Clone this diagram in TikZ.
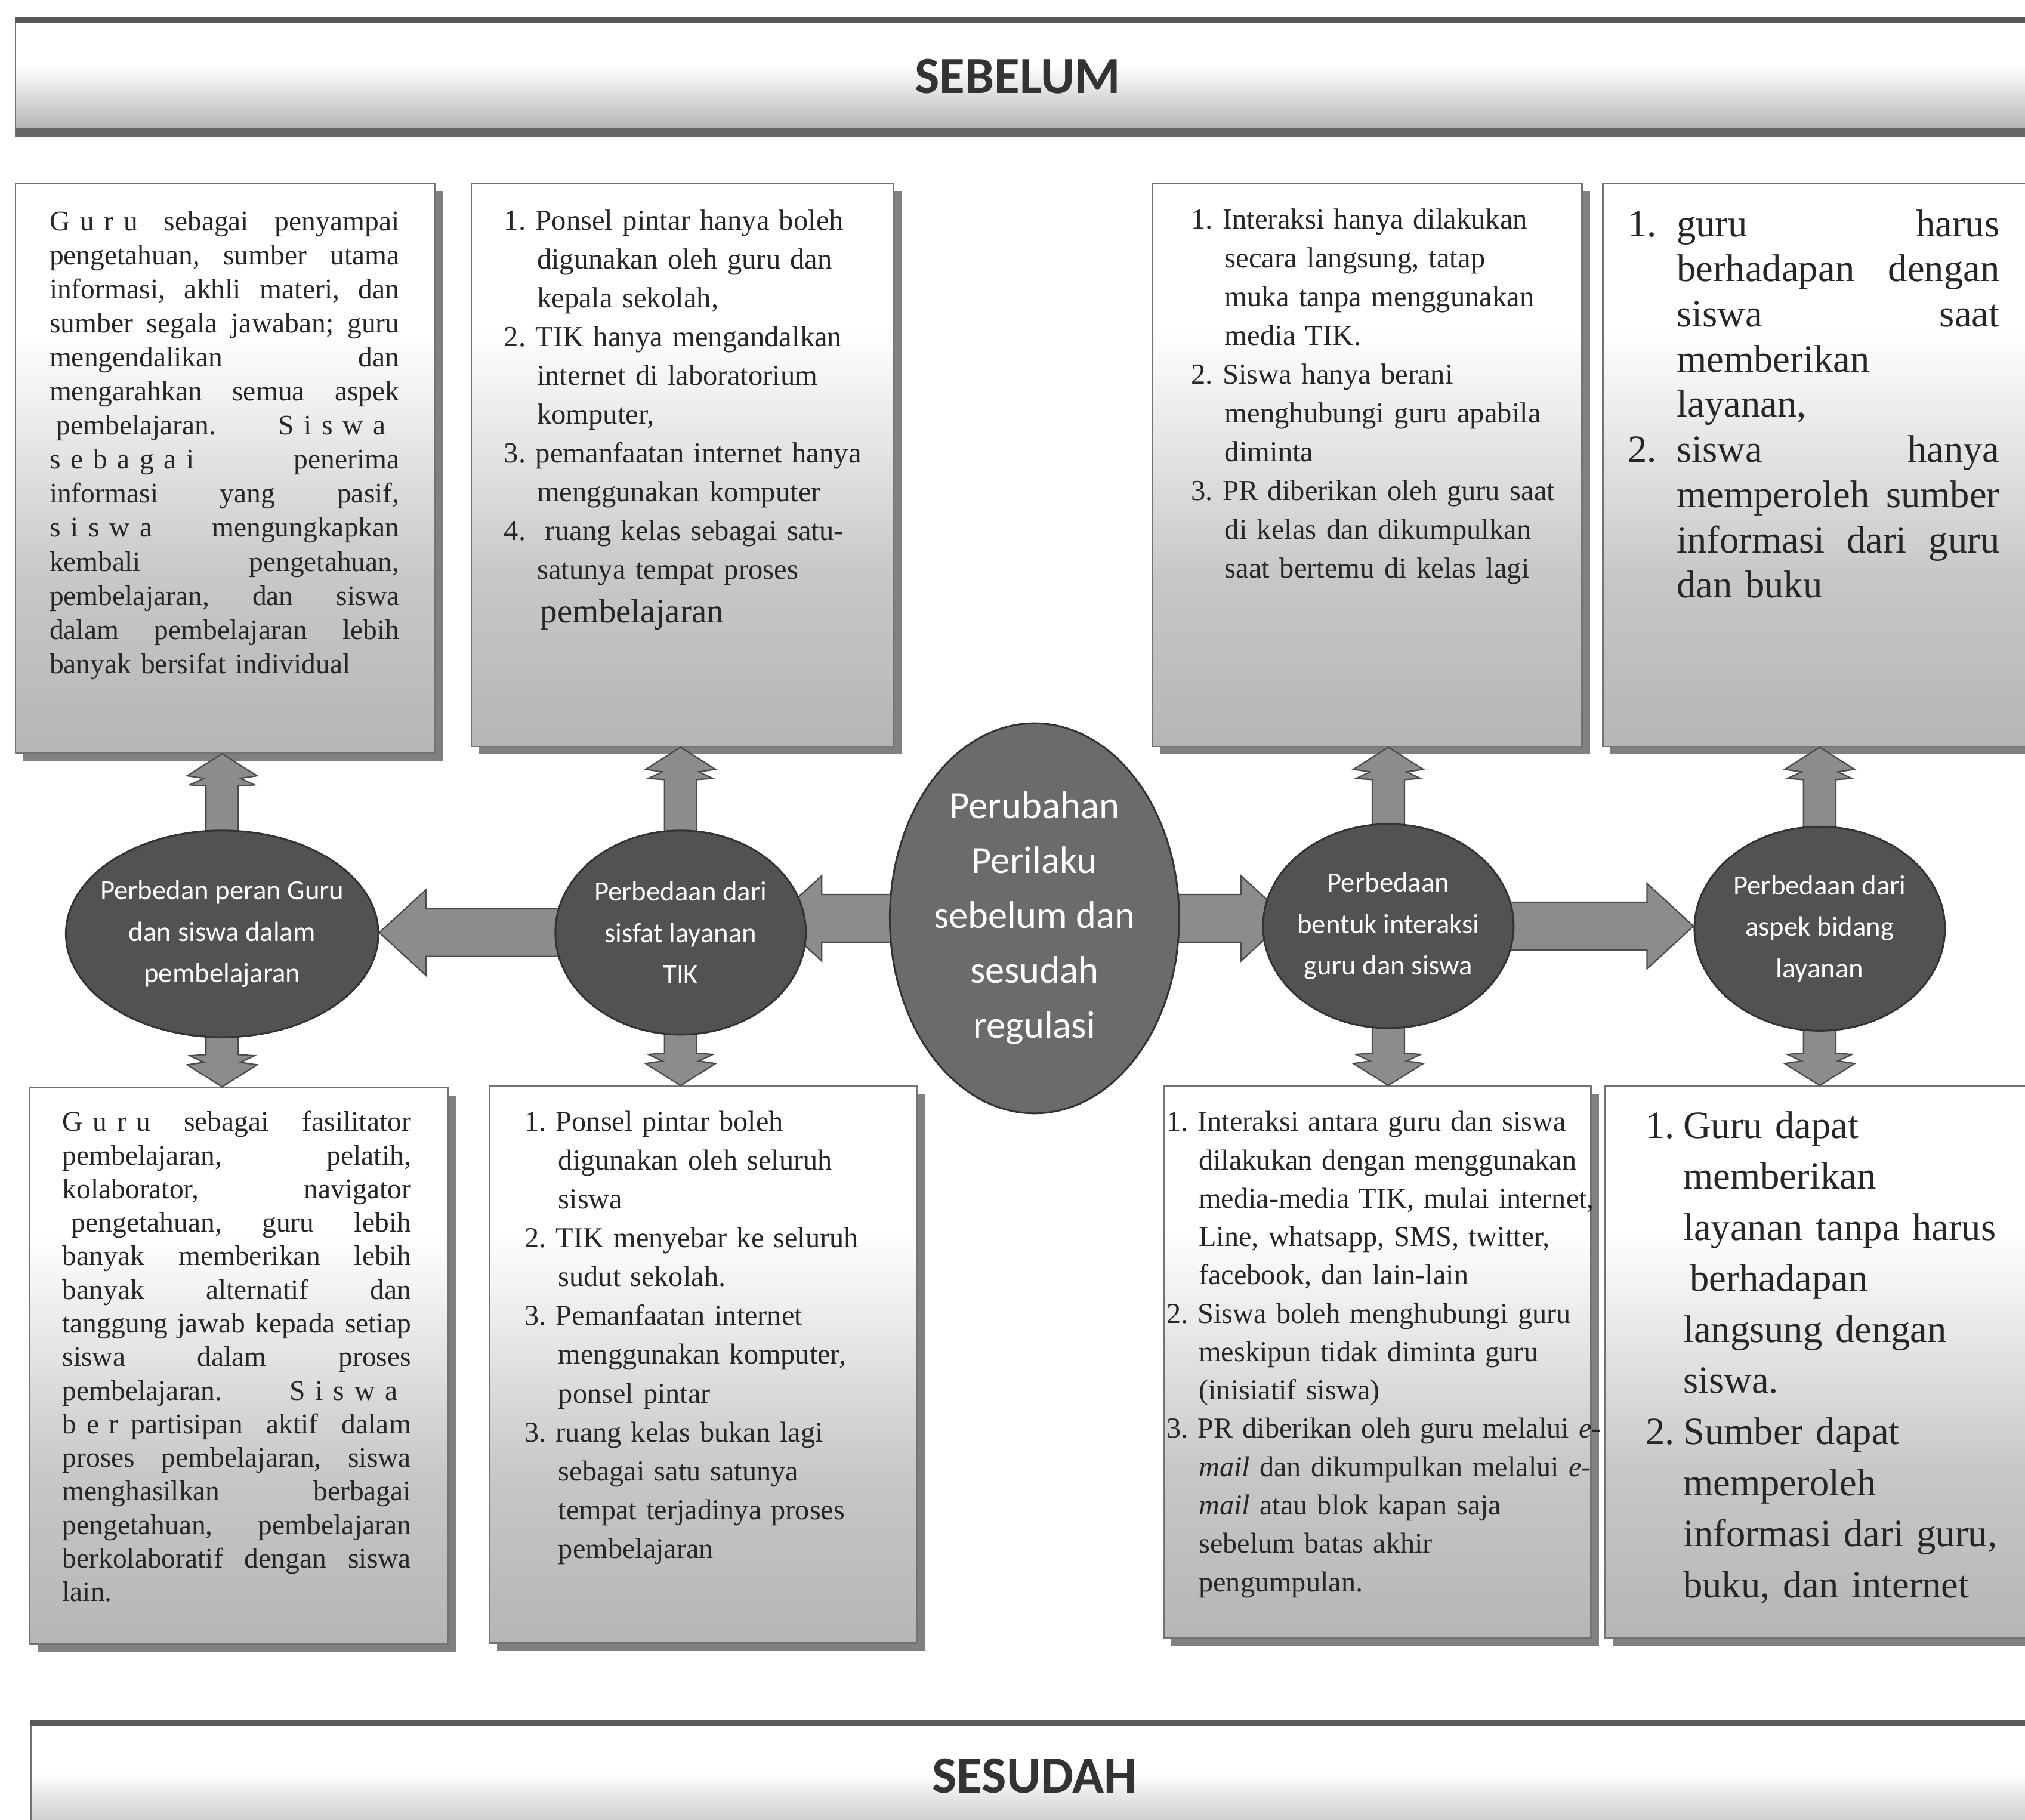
\documentclass[tikz,border=0pt]{standalone}
\usepackage{fontspec}
\setmainfont{Liberation Serif}
\newfontfamily\bubfont{Carlito}
\usetikzlibrary{calc,shapes.geometric,shadows}
\pgfdeclarelayer{back}
\pgfdeclarelayer{mid}
\pgfsetlayers{back,mid,main}
\pgfdeclareverticalshading{boxshade}{100bp}{color(0bp)=(black!40); color(40bp)=(black!22); color(62bp)=(white); color(100bp)=(white)}
\pgfdeclareverticalshading{bandshade}{100bp}{color(0bp)=(black!45); color(25bp)=(black!30); color(55bp)=(white); color(100bp)=(white)}
\newcommand{\jl}[2][\linewidth]{{\spaceskip=0pt\xspaceskip=0pt\makebox[#1][s]{#2}}}
\newcommand{\lsp}{\kern4.4pt}
\newcommand{\ind}[1][14.5pt]{\hspace*{#1}}
\tikzset{
  band/.style={rectangle, shading=bandshade, draw=black!55, line width=0.6pt, inner sep=0pt},
  bandtext/.style={font=\bubfont\bfseries\fontsize{23}{27}\selectfont, text=black!80},
  infobox/.style={rectangle, shading=boxshade, draw=black!55, line width=0.7pt, inner sep=0pt,
    general shadow={fill=black!50, shadow xshift=0.12cm, shadow yshift=-0.12cm}},
  boxtext/.style={anchor=north west, inner sep=0pt, align=left, text=black!85,
    execute at begin node=\frenchspacing},
  bub/.style={ellipse, fill=black!68, draw=black!80, line width=0.8pt, inner sep=0pt},
  bubtext/.style={align=center, text=white, inner sep=0pt, font=\bubfont\fontsize{12.3}{18.2}\selectfont},
  hblock/.style={fill=black!45, draw=black!70, line width=0.6pt,
    to path={let \p1=(\tikztostart), \p2=(\tikztotarget), \n1={sign(\x2-\x1)} in
      (\x1,\y1-10.5pt) -- ({\x2-(\n1)*20.5pt},\y1-10.5pt) -- ({\x2-(\n1)*20.5pt},\y1-18.8pt)
      -- (\x2,\y1) -- ({\x2-(\n1)*20.5pt},\y1+18.8pt) -- ({\x2-(\n1)*20.5pt},\y1+10.5pt)
      -- (\x1,\y1+10.5pt) -- cycle}},
  vblock/.style={fill=black!45, draw=black!70, line width=0.6pt,
    to path={let \p1=(\tikztostart), \p2=(\tikztotarget), \n1={sign(\y2-\y1)} in
      (\x1-7.1pt,\y1) -- (\x1-7.1pt,{\y2-(\n1)*14.2pt}) -- (\x1-14.2pt,{\y2-(\n1)*13.7pt})
      -- (\x1-8pt,{\y2-(\n1)*10.8pt}) -- (\x1-15.4pt,{\y2-(\n1)*9.7pt}) -- (\x1,\y2)
      -- (\x1+15.4pt,{\y2-(\n1)*9.7pt}) -- (\x1+8pt,{\y2-(\n1)*10.8pt})
      -- (\x1+14.2pt,{\y2-(\n1)*13.7pt}) -- (\x1+7.1pt,{\y2-(\n1)*14.2pt})
      -- (\x1+7.1pt,\y1) -- cycle}}
}
\begin{document}
\begin{tikzpicture}[x=0.02cm, y=-0.02cm]
  \useasboundingbox (0,0) rectangle (1568,1409);
  \begin{pgfonlayer}{back}
    % banners
    \node[band, minimum width=31.56cm, minimum height=1.72cm] (hdr) at (801,59) {};
    \draw[line width=0.09cm, black!65] (hdr.north west) -- (hdr.north east);
    \draw[line width=0.14cm, black!60] (hdr.south west) -- (hdr.south east);
    \node[bandtext] (sebelum) at (788,59) {SEBELUM};
    \node[band, minimum width=31.32cm, minimum height=1.9cm] (ftr) at (807,1382) {};
    \draw[line width=0.09cm, black!65] (ftr.north west) -- (ftr.north east);
    \node[bandtext] (sesudah) at (801,1375) {SESUDAH};
    % boxes
    \node[infobox, minimum width=6.5cm, minimum height=8.82cm] (t1) at (174.5,362.5) {};
    \node[infobox, minimum width=6.54cm, minimum height=8.72cm] (t2) at (528.5,360) {};
    \node[infobox, minimum width=6.66cm, minimum height=8.72cm] (t3) at (1058.5,360) {};
    \node[infobox, minimum width=6.78cm, minimum height=8.72cm] (t4) at (1410.5,360) {};
    \node[infobox, minimum width=6.48cm, minimum height=8.62cm] (b1) at (185,1057.5) {};
    \node[infobox, minimum width=6.62cm, minimum height=8.62cm] (b2) at (544.5,1056.5) {};
    \node[infobox, minimum width=6.62cm, minimum height=8.54cm] (b3) at (1066.5,1054.5) {};
    \node[infobox, minimum width=6.74cm, minimum height=8.54cm] (b4) at (1411.5,1054.5) {};
    % box texts
    \node[boxtext, text width=5.42cm, font=\fontsize{12.5}{15}\selectfont] (t1txt) at (38,163) {%
      \jl{G\lsp u\lsp r\lsp u sebagai penyampai}\\
      \jl{pengetahuan, sumber utama}\\
      \jl{informasi, akhli materi, dan}\\
      \jl{sumber segala jawaban; guru}\\
      \jl{mengendalikan dan}\\
      \jl{mengarahkan semua aspek}\\
      \jl{\hspace*{3pt}pembelajaran. S\lsp i\lsp s\lsp w\lsp a\hspace*{6pt}}\\
      \jl{s\lsp e\lsp b\lsp a\lsp g\lsp a\lsp i penerima}\\
      \jl{informasi yang pasif,}\\
      \jl{s\lsp i\lsp s\lsp w\lsp a mengungkapkan}\\
      \jl{kembali pengetahuan,}\\
      \jl{pembelajaran, dan siswa}\\
      \jl{dalam pembelajaran lebih}\\
      banyak bersifat individual};
    \node[boxtext, text width=5.8cm, font=\fontsize{12.8}{17.1}\selectfont] (t2txt) at (390,162) {%
      1. Ponsel pintar hanya boleh\\
      \ind digunakan oleh guru dan\\
      \ind kepala sekolah,\\
      2. TIK hanya mengandalkan\\
      \ind internet di laboratorium\\
      \ind komputer,\\
      3. pemanfaatan internet hanya\\
      \ind menggunakan komputer\\
      4.\ \ ruang kelas sebagai satu-\\
      \ind satunya tempat proses\\[2.2pt]
      \ind[16pt]{\fontsize{15}{19}\selectfont pembelajaran}};
    \node[boxtext, text width=6cm, font=\fontsize{12.8}{17.1}\selectfont] (t3txt) at (922,161) {%
      1. Interaksi hanya dilakukan\\
      \ind[14.8pt]secara langsung, tatap\\
      \ind[14.8pt]muka tanpa menggunakan\\
      \ind[14.8pt]media TIK.\\
      2. Siswa hanya berani\\
      \ind[14.8pt]menghubungi guru apabila\\
      \ind[14.8pt]diminta\\
      3. PR diberikan oleh guru saat\\
      \ind[14.8pt]di kelas dan dikumpulkan\\
      \ind[14.8pt]saat bertemu di kelas lagi};
    \node[boxtext, text width=6cm, font=\fontsize{17}{19.9}\selectfont] (t4txt) at (1260,162) {%
      \makebox[0.76cm][l]{1.}\jl[5cm]{guru harus}\\
      \ind[0.76cm]\jl[5cm]{berhadapan dengan}\\
      \ind[0.76cm]\jl[5cm]{siswa saat}\\
      \ind[0.76cm]memberikan\\
      \ind[0.76cm]layanan,\\
      \makebox[0.76cm][l]{2.}\jl[5cm]{siswa hanya}\\
      \ind[0.76cm]\jl[5cm]{memperoleh sumber}\\
      \ind[0.76cm]\jl[5cm]{informasi dari guru}\\
      \ind[0.76cm]dan buku};
    \node[boxtext, text width=5.4cm, font=\fontsize{12.5}{14.8}\selectfont] (b1txt) at (48,860) {%
      \jl{G\lsp u\lsp r\lsp u sebagai fasilitator}\\
      \jl{pembelajaran, pelatih,}\\
      \jl{kolaborator, navigator}\\
      \jl{\hspace*{4pt}pengetahuan, guru lebih}\\
      \jl{banyak memberikan lebih}\\
      \jl{banyak alternatif dan}\\
      \jl{tanggung jawab kepada setiap}\\
      \jl{siswa dalam proses}\\
      \jl{pembelajaran. S\lsp i\lsp s\lsp w\lsp a\hspace*{6pt}}\\
      \jl{b\lsp e\lsp r\lsp\kern1pt partisipan aktif dalam}\\
      \jl{proses pembelajaran, siswa}\\
      \jl{menghasilkan berbagai}\\
      \jl{pengetahuan, pembelajaran}\\
      \jl{berkolaboratif dengan siswa}\\
      lain.};
    \node[boxtext, text width=6cm, font=\fontsize{12.7}{17.1}\selectfont] (b2txt) at (406,860) {%
      1. Ponsel pintar boleh\\
      \ind[14.8pt]digunakan oleh seluruh\\
      \ind[14.8pt]siswa\\
      2. TIK menyebar ke seluruh\\
      \ind[14.8pt]sudut sekolah.\\
      3. Pemanfaatan internet\\
      \ind[14.8pt]menggunakan komputer,\\
      \ind[14.8pt]ponsel pintar\\
      3. ruang kelas bukan lagi\\
      \ind[14.8pt]sebagai satu satunya\\
      \ind[14.8pt]tempat terjadinya proses\\
      \ind[14.8pt]pembelajaran};
    \node[boxtext, text width=6.9cm, font=\fontsize{12.7}{16.9}\selectfont] (b3txt) at (903,860) {%
      1. Interaksi antara guru dan siswa\\
      \ind[14.2pt]dilakukan dengan menggunakan\\
      \ind[14.2pt]media-media TIK, mulai internet,\\
      \ind[14.2pt]Line, whatsapp, SMS, twitter,\\
      \ind[14.2pt]facebook, dan lain-lain\\
      2. Siswa boleh menghubungi guru\\
      \ind[14.2pt]meskipun tidak diminta guru\\
      \ind[14.2pt](inisiatif siswa)\\
      3. PR diberikan oleh guru melalui \textit{e-}\\
      \ind[14.2pt]\textit{mail} dan dikumpulkan melalui \textit{e-}\\
      \ind[14.2pt]\textit{mail} atau blok kapan saja\\
      \ind[14.2pt]sebelum batas akhir\\
      \ind[14.2pt]pengumpulan.};
    \node[boxtext, text width=6cm, font=\fontsize{17}{22.5}\selectfont] (b4txt) at (1274,860) {%
      \makebox[16.5pt][l]{1.}Guru dapat\\
      \ind[16.5pt]memberikan\\
      \ind[16.5pt]layanan tanpa harus\\
      \ind[19.5pt]berhadapan\\
      \ind[16.5pt]langsung dengan\\
      \ind[16.5pt]siswa.\\
      \makebox[16.5pt][l]{2.}Sumber dapat\\
      \ind[16.5pt]memperoleh\\
      \ind[16.5pt]informasi dari guru,\\
      \ind[16.5pt]buku, dan internet};
  \end{pgfonlayer}
  % nodes
  \node[bub, minimum width=4.84cm, minimum height=3.2cm] (c1) at (172,723) {};
  \node[bub, minimum width=3.88cm, minimum height=3.16cm] (c2) at (527,722) {};
  \node[bub, fill=black!58, minimum width=4.48cm, minimum height=6.04cm] (pusat) at (801,711) {};
  \node[bub, minimum width=3.88cm, minimum height=3.16cm] (c3) at (1075,717) {};
  \node[bub, minimum width=3.88cm, minimum height=3.16cm] (c4) at (1409,719) {};
  % labels
  \node[bubtext] (c1txt) at (c1) {Perbedan peran Guru\\dan siswa dalam\\pembelajaran};
  \node[bubtext] (c2txt) at (c2) {Perbedaan dari\\sisfat layanan\\TIK};
  \node[bubtext, font=\bubfont\fontsize{17}{24.2}\selectfont] (pusattxt) at (pusat)
    {Perubahan\\Perilaku\\sebelum dan\\sesudah\\regulasi};
  \node[bubtext] (c3txt) at (c3) {Perbedaan\\bentuk interaksi\\guru dan siswa};
  \node[bubtext] (c4txt) at (c4) {Perbedaan dari\\aspek bidang\\layanan};
  % edges
  \begin{pgfonlayer}{mid}
    \draw[hblock] (c2.center) to (c1.east);
    \draw[hblock] (pusat.center) to ($(c2.east)!0.25!(c2.center)$);
    \draw[hblock] (pusat.center) to ($(c3.west)!0.2!(c3.center)$);
    \draw[hblock] (c3.center) to (c4.west);
    \foreach \c/\t/\b in {c1/t1/b1, c2/t2/b2, c3/t3/b3, c4/t4/b4}{
      \draw[vblock] (\c.center) to (\c.center |- \t.south);
      \draw[vblock] (\c.center) to (\c.center |- \b.north);
    }
  \end{pgfonlayer}
\end{tikzpicture}
\end{document}
